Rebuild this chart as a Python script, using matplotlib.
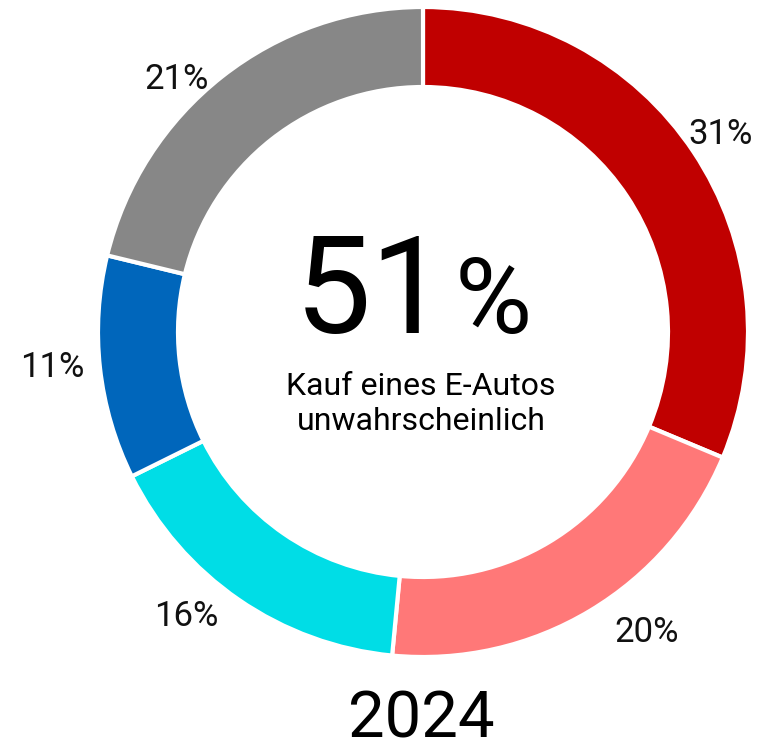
import numpy as np
import matplotlib.pyplot as plt

# Share of answers, clockwise from the top
shares = [31, 20, 16, 11, 21]
share_labels = ["31%", "20%", "16%", "11%", "21%"]
colors = ["#c00000", "#ff7878", "#00dde6", "#0066bb", "#878787"]

center_value = "51"
center_text = "Kauf eines E-Autos\nunwahrscheinlich"
year_label = "2024"

plt.rcParams["font.family"] = ["Roboto", "DejaVu Sans"]

fig = plt.figure(figsize=(7.59, 7.53), dpi=100)
ax = fig.add_axes([0, 0, 1, 1])

cx, cy = 423, 753 - 332
radius = 325

wedges, _ = ax.pie(
    shares,
    colors=colors,
    startangle=90,
    counterclock=False,
    center=(cx, cy),
    radius=radius,
    wedgeprops=dict(width=80, edgecolor="white", linewidth=3),
    frame=True,
)
ax.set_xlim(0, 759)
ax.set_ylim(0, 753)
ax.set_aspect("equal")
ax.axis("off")

# percentage labels outside the ring, nudged a bit like the original
label_dist = 1.12
nudges = [(-5, -4), (37, 12), (-30, 15), (-9, 5), (-21, -34)]
for w, lab, (nx, ny) in zip(wedges, share_labels, nudges):
    ang = np.deg2rad((w.theta1 + w.theta2) / 2)
    x = cx + radius * label_dist * np.cos(ang) + nx
    y = cy + radius * label_dist * np.sin(ang) + ny
    ax.text(x, y, lab, fontsize=25, ha="center", va="center", color="#111111")

# Big number in the middle
base_y = 753 - 333
ax.text(cx - 52, base_y, center_value, fontsize=98, ha="center", va="baseline", color="black")
ax.text(cx + 70, base_y, "%", fontsize=76, ha="center", va="baseline", color="black")
ax.text(cx - 2, 753 - 404, center_text, fontsize=23, ha="center", va="center",
        color="black", linespacing=1.3)

ax.text(cx - 2, 753 - 720, year_label, fontsize=47, ha="center", va="center", color="black")

fig.savefig("out.png", dpi=100)
